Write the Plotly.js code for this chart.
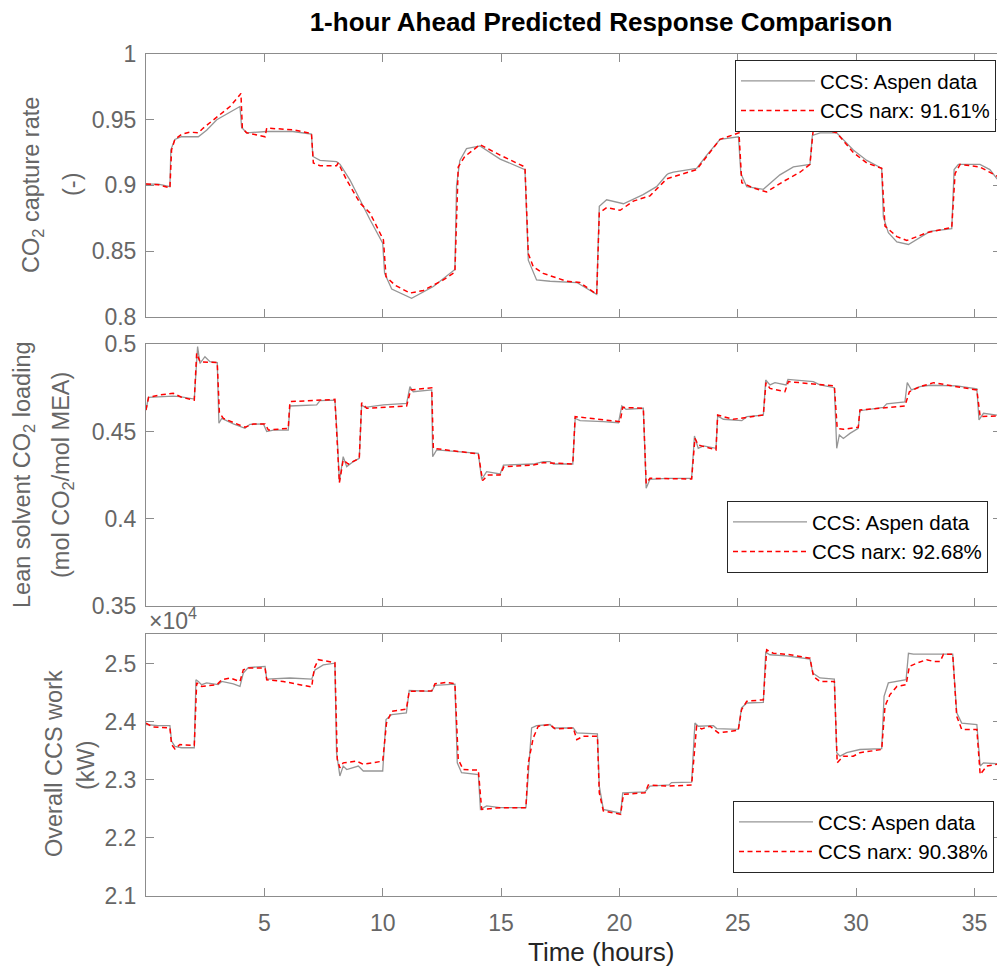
<!DOCTYPE html>
<html>
<head>
<meta charset="utf-8">
<script src="https://cdn.plot.ly/plotly-3.0.1.min.js"></script>
<style>html,body{margin:0;padding:0;background:#fff;overflow:hidden;}#chart{width:1004px;height:969px;}</style>
</head>
<body>
<div id="chart"></div>
<script>
// ---------- Panel 1: CO2 capture rate (-) ----------
var captureAspenT = [0,0.52,1.01,1.05,1.22,1.5,2.21,2.56,2.99,3.55,3.97,4.04,4.25,5.1,6.2,6.99,7.05,7.35,8.05,8.2,8.62,9.04,9.46,10.0,10.08,10.38,11.22,12.14,13.05,13.12,13.26,13.54,14.11,14.96,16.01,16.15,16.5,17.07,18.2,19.04,19.15,19.46,20.17,21.0,21.57,22.0,22.07,22.28,23.26,23.69,24.25,25.03,25.13,25.38,26.08,26.78,27.35,28.05,28.15,28.48,29.18,29.88,30.45,31.08,31.15,31.36,31.72,32.21,33.12,34.04,34.14,34.32,35.23,35.65,35.95,36.12];
var captureAspen  = [0.901,0.901,0.899,0.927,0.935,0.937,0.937,0.942,0.950,0.956,0.960,0.944,0.940,0.941,0.941,0.939,0.922,0.919,0.918,0.916,0.904,0.889,0.874,0.856,0.833,0.821,0.814,0.823,0.836,0.900,0.919,0.928,0.930,0.920,0.912,0.843,0.828,0.827,0.826,0.817,0.884,0.889,0.886,0.893,0.899,0.908,0.909,0.910,0.913,0.923,0.935,0.937,0.909,0.899,0.897,0.908,0.914,0.916,0.938,0.940,0.940,0.927,0.919,0.913,0.876,0.864,0.857,0.855,0.865,0.867,0.912,0.916,0.916,0.912,0.905,0.903];
var captureNarxT  = [0,0.52,1.01,1.08,1.22,1.51,1.86,2.21,2.42,2.99,3.55,3.97,4.01,4.07,4.25,5.03,5.1,6.2,6.99,7.07,7.35,8.05,8.12,8.48,9.04,9.46,10.03,10.14,10.52,11.15,11.72,12.56,13.05,13.19,13.47,13.83,14.11,14.96,16.01,16.15,16.36,16.78,17.77,18.33,19.04,19.15,19.46,20.03,20.59,21.29,22.0,23.26,23.69,24.25,25.05,25.17,25.66,26.22,26.93,27.63,28.05,28.19,28.76,29.18,29.88,30.45,31.08,31.22,31.72,32.14,33.0,34.04,34.18,34.39,35.23,35.95,36.12];
var captureNarx   = [0.901,0.9005,0.898,0.927,0.935,0.939,0.9405,0.940,0.9436,0.952,0.960,0.969,0.970,0.9436,0.940,0.937,0.9436,0.9423,0.9395,0.917,0.915,0.915,0.917,0.904,0.8865,0.879,0.8585,0.8305,0.824,0.818,0.820,0.828,0.834,0.914,0.922,0.927,0.931,0.923,0.914,0.848,0.838,0.833,0.827,0.826,0.817,0.879,0.883,0.881,0.888,0.892,0.905,0.912,0.922,0.935,0.940,0.902,0.898,0.895,0.903,0.910,0.916,0.943,0.942,0.940,0.925,0.917,0.913,0.869,0.861,0.858,0.864,0.868,0.909,0.916,0.914,0.907,0.906];

// ---------- Panel 2: Lean solvent CO2 loading ----------
var loadingAspenT = [0,0.1,1.15,1.43,2.04,2.11,2.18,2.28,2.49,2.7,3.01,3.08,3.2,3.69,4.18,4.39,4.96,5.1,5.38,6.01,6.08,7.21,7.35,7.98,8.08,8.17,8.33,8.48,8.76,9.01,9.11,9.25,10.03,11.01,11.15,11.29,12.07,12.11,12.28,14.04,14.18,14.39,14.96,15.1,16.36,16.79,17.07,17.21,18.03,18.13,18.34,19.32,19.96,20.1,20.28,21.01,21.13,21.29,22.0,23.05,23.17,23.33,23.55,24.08,24.15,24.39,25.17,25.38,26.08,26.18,26.36,26.57,27.04,27.12,28.19,28.47,29.08,29.18,29.29,29.46,29.74,30.09,30.16,31.15,31.29,32.06,32.16,32.34,32.7,33.12,34.25,35.1,35.19,35.38,35.95,36.12];
var loadingAspen  = [0.4623,0.4696,0.4703,0.470,0.4686,0.4853,0.4987,0.4891,0.4929,0.490,0.4895,0.4547,0.4575,0.4543,0.4518,0.4541,0.4543,0.4499,0.4508,0.4508,0.4646,0.4652,0.4677,0.468,0.447,0.4212,0.4355,0.4298,0.4327,0.4346,0.4652,0.4638,0.4652,0.4661,0.4757,0.4728,0.4738,0.4355,0.4394,0.4374,0.4225,0.4269,0.4256,0.4307,0.4313,0.4327,0.4327,0.4313,0.4313,0.4575,0.4562,0.4556,0.455,0.4646,0.4627,0.4633,0.4174,0.4225,0.4231,0.4231,0.4474,0.4403,0.4417,0.4403,0.4589,0.457,0.4562,0.4585,0.4594,0.4795,0.4767,0.478,0.4767,0.4799,0.4786,0.4767,0.4751,0.4403,0.448,0.446,0.4489,0.4518,0.4619,0.4638,0.4658,0.4669,0.478,0.4738,0.4757,0.4765,0.4761,0.4744,0.4566,0.4604,0.4591,0.4590];
var loadingNarxT  = [0,0.11,0.56,1.15,1.5,2.04,2.14,2.28,3.01,3.1,3.27,4.18,4.53,5.03,5.17,6.01,6.08,7.21,7.98,8.17,8.33,8.55,9.01,9.11,9.32,11.01,11.18,12.07,12.14,14.04,14.22,14.46,14.96,15.12,16.36,16.79,18.03,18.13,19.32,20.03,20.14,21.01,21.13,21.29,23.05,23.19,23.33,24.08,24.15,24.81,26.08,26.19,26.36,26.99,27.14,29.08,29.2,29.46,30.09,30.16,32.06,32.25,32.7,33.27,34.25,35.1,35.24,35.95,36.12];
var loadingNarx   = [0.4623,0.4696,0.4709,0.4719,0.4696,0.468,0.4948,0.490,0.4895,0.4608,0.4575,0.4524,0.4543,0.4543,0.4508,0.4518,0.4671,0.4677,0.4684,0.4206,0.4336,0.4313,0.4346,0.4665,0.4633,0.4646,0.4738,0.4751,0.4403,0.4371,0.4218,0.425,0.425,0.4298,0.4307,0.4321,0.4313,0.4585,0.4566,0.4556,0.4638,0.4633,0.4202,0.4231,0.4227,0.446,0.4422,0.4394,0.4594,0.457,0.4594,0.478,0.4747,0.4728,0.4786,0.4761,0.4518,0.4512,0.4524,0.4623,0.4646,0.4728,0.4757,0.478,0.4757,0.4738,0.4585,0.4591,0.4590];

// ---------- Panel 3: Overall CCS work (kW) ----------
var workAspenT = [0,0.5,1.01,1.08,1.22,1.5,2.04,2.11,2.21,2.35,2.56,3.05,3.2,3.69,3.97,4.11,4.32,5.03,5.1,6.08,7.0,7.14,7.49,7.98,8.05,8.19,8.33,8.48,8.97,9.18,10.0,10.14,10.38,11.0,11.12,12.07,12.21,13.05,13.15,13.33,14.04,14.13,14.39,14.96,16.05,16.15,16.29,16.5,17.07,17.21,18.05,18.2,19.07,19.15,19.32,20.05,20.14,21.08,21.29,22.1,22.2,23.05,23.19,23.33,23.97,24.11,25.02,25.16,25.38,26.08,26.18,26.36,27.07,28.05,28.17,28.47,29.08,29.18,29.32,29.6,30.16,31.08,31.18,31.36,32.11,32.21,32.42,34.08,34.25,34.46,35.1,35.24,35.38,35.95,36.12];
var workAspen  = [23950,23930,23930,23665,23575,23550,23550,24720,24690,24635,24665,24635,24690,24650,24605,24835,24930,24950,24730,24750,24730,24890,24975,25005,23465,23065,23235,23175,23235,23150,23150,24035,24120,24150,24535,24520,24625,24645,23290,23120,23090,22490,22550,22520,22520,23175,23890,23930,23950,23890,23890,23805,23790,22890,22490,22425,22775,22790,22890,22910,22950,22960,23975,23920,23930,23880,23865,24235,24320,24330,25190,25150,25130,25075,24835,24750,24730,23465,23405,23465,23520,23535,24435,24665,24720,25175,25160,25160,24150,23975,23950,23235,23290,23275,23275];
var workNarxT  = [0,0.28,1.01,1.08,1.22,1.43,2.04,2.14,2.35,3.0,3.2,3.55,3.97,4.11,4.32,5.03,5.1,5.8,6.5,7.0,7.11,7.28,7.98,8.08,8.19,8.33,8.9,9.18,10.0,10.16,10.38,11.0,11.12,12.07,12.21,12.7,13.05,13.19,13.4,14.04,14.18,14.96,16.05,16.15,16.36,16.57,17.07,17.28,18.05,18.2,18.48,19.07,19.15,19.32,20.05,20.17,21.08,21.22,22.1,23.05,23.26,23.47,23.83,24.18,25.02,25.16,25.38,26.08,26.22,26.5,27.21,28.05,28.2,28.47,29.08,29.2,29.46,29.88,30.16,31.08,31.22,31.43,31.72,32.11,32.25,32.56,32.98,33.27,33.55,33.69,34.08,34.25,34.46,35.1,35.24,35.52,35.95,36.12];
var workNarx   = [23975,23910,23890,23605,23530,23605,23590,24665,24605,24635,24720,24750,24690,24890,24920,24920,24720,24690,24635,24595,24920,25065,25015,23350,23205,23290,23320,23265,23320,23975,24175,24215,24520,24530,24650,24675,24650,23350,23175,23165,22490,22520,22520,23290,23720,23920,23950,23875,23890,23690,23750,23750,22775,22465,22405,22750,22775,22910,22890,22910,23920,23875,23920,23805,23850,24205,24350,24375,25235,25175,25150,25090,24775,24690,24690,23290,23405,23405,23465,23520,24265,24465,24605,24635,24950,25005,25065,25035,25035,25160,25160,24090,23865,23865,23090,23235,23265,23265];

// ---------- labels ----------
var hourTicks = [5,10,15,20,25,30,35];
var captureTicks = [0.8,0.85,0.9,0.95,1];
var captureTickText = ['0.8','0.85','0.9','0.95','1'];
var loadingTicks = [0.35,0.4,0.45,0.5];
var loadingTickText = ['0.35','0.4','0.45','0.5'];
var workTicks = [21000,22000,23000,24000,25000];
var workTickText = ['2.1','2.2','2.3','2.4','2.5'];
var aspenName = 'CCS: Aspen data';
var narxNames = ['CCS narx: 91.61%','CCS narx: 92.68%','CCS narx: 90.38%'];

var FONT = 'Liberation Sans, Arial, Helvetica, sans-serif';
var aspenLine = {color: 'rgb(150,150,150)', width: 1.3};
var narxLine = {color: 'rgb(255,0,0)', width: 1.5, dash: '5px,3.5px'};

var traces = [
  {x: captureAspenT, y: captureAspen, xaxis:'x', yaxis:'y', name: aspenName, legend:'legend', mode:'lines', line: aspenLine},
  {x: captureNarxT, y: captureNarx, xaxis:'x', yaxis:'y', name: narxNames[0], legend:'legend', mode:'lines', line: narxLine},
  {x: loadingAspenT, y: loadingAspen, xaxis:'x2', yaxis:'y2', name: aspenName, legend:'legend2', mode:'lines', line: aspenLine},
  {x: loadingNarxT, y: loadingNarx, xaxis:'x2', yaxis:'y2', name: narxNames[1], legend:'legend2', mode:'lines', line: narxLine},
  {x: workAspenT, y: workAspen, xaxis:'x3', yaxis:'y3', name: aspenName, legend:'legend3', mode:'lines', line: aspenLine},
  {x: workNarxT, y: workNarx, xaxis:'x3', yaxis:'y3', name: narxNames[2], legend:'legend3', mode:'lines', line: narxLine}
];

// plot area spans x = 146 .. 1001 px (right frame lies just outside the 997 px window)
var PL = 146, PW = 855, PB = 896, PH = 842;
var axisLine = '#8c8c8c';
var tickFont = {family: FONT, size: 23, color: '#666666'};
function xAx(anchor, labels) {
  return {anchor: anchor, domain: [0,1], range: [0,36.12], tickvals: hourTicks, showticklabels: labels,
    ticks: 'inside', ticklen: 8, tickcolor: axisLine, tickwidth: 1, mirror: 'ticks', showline: true,
    linecolor: axisLine, linewidth: 1, showgrid: false, zeroline: false, tickfont: tickFont, ticklabelstandoff: 6};
}
function yAx(anchor, domain, range, vals, text) {
  return {anchor: anchor, domain: domain, range: range, tickvals: vals, ticktext: text,
    ticks: 'inside', ticklen: 8, tickcolor: axisLine, tickwidth: 1, mirror: 'ticks', showline: true,
    linecolor: axisLine, linewidth: 1, showgrid: false, zeroline: false, tickfont: tickFont, ticklabelstandoff: 4};
}
function px2x(px) { return (px - PL) / PW; }
function py2y(py) { return (PB - py) / PH; }
function yTitle(text, px, py) {
  return {text: text, xref: 'paper', yref: 'paper', x: px2x(px), y: py2y(py), xanchor: 'center', yanchor: 'middle',
    textangle: -90, showarrow: false, font: {family: FONT, size: 23.5, color: '#666666'}};
}
function leg(rightPx, topPx) {
  return {x: px2x(rightPx), y: py2y(topPx), xanchor: 'right', yanchor: 'top', xref: 'paper', yref: 'paper',
    bgcolor: '#ffffff', bordercolor: '#262626', borderwidth: 1, font: {family: FONT, size: 20.5, color: '#000000'},
    itemwidth: 74, tracegroupgap: 0};
}

var layout = {
  width: 1004, height: 969,
  margin: {l: PL, r: 1004 - PL - PW, t: 54, b: 73},
  paper_bgcolor: '#ffffff', plot_bgcolor: '#ffffff',
  showlegend: true,
  font: {family: FONT},
  title: {text: '<b>1-hour Ahead Predicted Response Comparison</b>', font: {family: FONT, size: 26, color: '#000000'},
    x: px2x(601), xref: 'paper', xanchor: 'center', y: 1 - 22/969, yref: 'container', yanchor: 'middle'},
  xaxis: xAx('y', false),
  xaxis2: xAx('y2', false),
  xaxis3: xAx('y3', true),
  yaxis: yAx('x', [0.688, 1], [0.8, 1], captureTicks, captureTickText),
  yaxis2: yAx('x2', [0.3448, 0.6552], [0.35, 0.5], loadingTicks, loadingTickText),
  yaxis3: yAx('x3', [0, 0.3107], [21000, 25500], workTicks, workTickText),
  legend: leg(996, 60),
  legend2: leg(988, 501),
  legend3: leg(994, 801),
  annotations: [
    yTitle('CO<sub>2</sub> capture rate', 33, 185),
    yTitle('(-)', 72, 185),
    yTitle('Lean solvent CO<sub>2</sub> loading', 23, 475),
    yTitle('(mol CO<sub>2</sub>/mol MEA)', 62, 475),
    yTitle('Overall CCS work', 54, 764),
    yTitle('(kW)', 86, 765),
    {text: '\u00d710<sup>4</sup>', xref: 'paper', yref: 'paper', x: px2x(147), y: py2y(619), xanchor: 'left', yanchor: 'middle',
     showarrow: false, font: {family: FONT, size: 23, color: '#666666'}},
    {text: 'Time (hours)', xref: 'paper', yref: 'paper', x: px2x(601), y: py2y(952), xanchor: 'center', yanchor: 'middle',
     showarrow: false, font: {family: FONT, size: 26, color: '#262626'}}
  ]
};

Plotly.newPlot('chart', traces, layout, {displayModeBar: false, staticPlot: true});
</script>
</body>
</html>
